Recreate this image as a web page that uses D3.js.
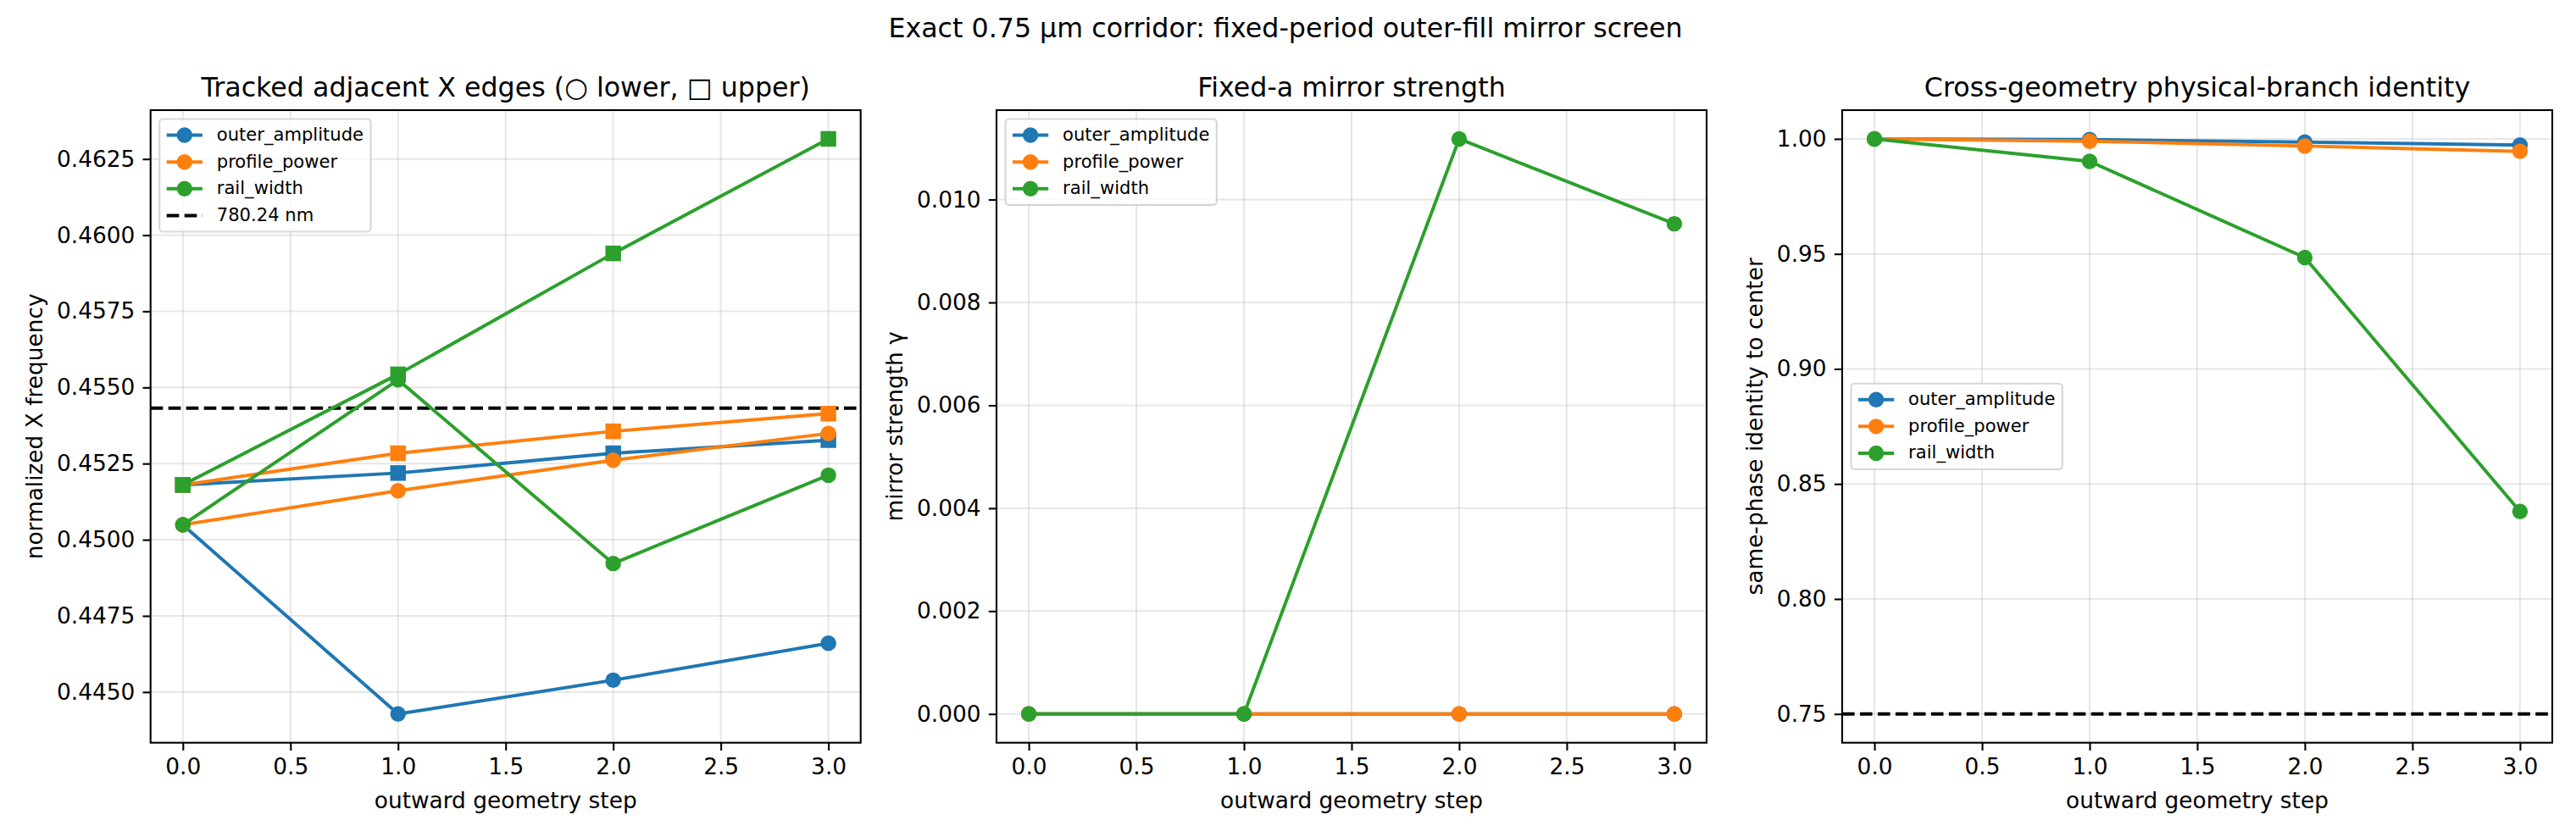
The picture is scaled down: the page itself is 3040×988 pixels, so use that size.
<!DOCTYPE html>
<html><head><meta charset="utf-8">
<script src="https://cdn.jsdelivr.net/npm/d3@7/dist/d3.min.js"></script>
<style>
body{margin:0;background:#fff}
svg text{font-family:"DejaVu Sans",sans-serif;fill:#000}
</style>
</head><body>
<svg id="c" width="3040" height="988" xmlns="http://www.w3.org/2000/svg"></svg>
<script>
// ---------------- DATA ----------------
const steps = [0, 1, 2, 3];
const seriesNames = ["outer_amplitude", "profile_power", "rail_width"];
const seriesColors = ["#1f77b4", "#ff7f0e", "#2ca02c"];

// Panel 1: tracked adjacent X edges (lower = circle, upper = square)
const outerAmplitudeLower = [0.45049, 0.44428, 0.44539, 0.44660];
const outerAmplitudeUpper = [0.45180, 0.45219, 0.45284, 0.45327];
const profilePowerLower   = [0.45049, 0.45161, 0.45261, 0.45349];
const profilePowerUpper   = [0.45180, 0.45284, 0.45356, 0.45414];
const railWidthLower      = [0.45049, 0.45525, 0.44922, 0.45212];
const railWidthUpper      = [0.45180, 0.45543, 0.45940, 0.46316];
const targetFrequency = 0.45432;
const targetLabel = "780.24 nm";

// Panel 2: fixed-a mirror strength
const mirrorOuterAmplitude = [0, 0, 0, 0];
const mirrorProfilePower   = [0, 0, 0, 0];
const mirrorRailWidth      = [0, 0, 0.01118, 0.00953];

// Panel 3: same-phase identity to center
const identityOuterAmplitude = [1.0, 0.9997, 0.9986, 0.9973];
const identityProfilePower   = [1.0, 0.9990, 0.9969, 0.9946];
const identityRailWidth      = [1.0, 0.9902, 0.9484, 0.8380];
const identityThreshold = 0.75;

// Ticks
const xTicks = [0, 0.5, 1, 1.5, 2, 2.5, 3];
const freqTicks = [0.4450, 0.4475, 0.4500, 0.4525, 0.4550, 0.4575, 0.4600, 0.4625];
const mirrorTicks = [0, 0.002, 0.004, 0.006, 0.008, 0.010];
const identityTicks = [0.75, 0.80, 0.85, 0.90, 0.95, 1.00];

// Texts
const suptitle = "Exact 0.75 \u00b5m corridor: fixed-period outer-fill mirror screen";
const titles = ["Tracked adjacent X edges (\u25cb lower, \u25a1 upper)", "Fixed-a mirror strength", "Cross-geometry physical-branch identity"];
const yLabels = ["normalized X frequency", "mirror strength \u03b3", "same-phase identity to center"];
const xLabel = "outward geometry step";

// ---------------- LAYOUT ----------------
const svg = d3.select("#c");
const panelLeft = [177.7, 1176, 2174];
const panelW = 838, panelTop = 130, panelH = 746.7;
const LW = 3.96, MS = 15.8, MEW = 2.64;
const FS_TICK = 26.4, FS_TITLE = 31.7, FS_LEG = 21.1;
const TICK_LEN = 9.2, TICK_W = 2.1, SPINE_W = 2.1;

svg.append("rect").attr("width", 3040).attr("height", 988).attr("fill", "#fff");
svg.append("text").attr("x", 1517).attr("y", 44).attr("text-anchor", "middle")
  .attr("font-size", FS_TITLE).text(suptitle);

function paddedDomain(vals) {
  const lo = d3.min(vals), hi = d3.max(vals), p = (hi - lo) * 0.05;
  return [lo - p, hi + p];
}

function drawPanel(i, cfg) {
  const g = svg.append("g").attr("transform", `translate(${panelLeft[i]},${panelTop})`);
  const x = d3.scaleLinear().domain([-0.15, 3.15]).range([0, panelW]);
  const y = d3.scaleLinear().domain(cfg.yDomain).range([panelH, 0]);
  const clipId = "clip" + i;
  g.append("clipPath").attr("id", clipId).append("rect").attr("width", panelW).attr("height", panelH);

  // grid
  const grid = g.append("g").attr("stroke", "#b0b0b0").attr("stroke-opacity", 0.3).attr("stroke-width", 2.1);
  grid.selectAll("line.gx").data(xTicks).join("line")
    .attr("x1", d => x(d)).attr("x2", d => x(d)).attr("y1", 0).attr("y2", panelH);
  grid.selectAll("line.gy").data(cfg.yTicks).join("line")
    .attr("y1", d => y(d)).attr("y2", d => y(d)).attr("x1", 0).attr("x2", panelW);

  // axes
  const xa = g.append("g").attr("transform", `translate(0,${panelH})`)
    .call(d3.axisBottom(x).tickValues(xTicks).tickFormat(d3.format(".1f")).tickSize(TICK_LEN).tickPadding(TICK_LEN));
  const ya = g.append("g")
    .call(d3.axisLeft(y).tickValues(cfg.yTicks).tickFormat(d3.format(cfg.yFormat)).tickSize(TICK_LEN).tickPadding(TICK_LEN));
  [xa, ya].forEach(a => {
    a.select(".domain").remove();
    a.attr("font-family", null).attr("font-size", FS_TICK);
    a.selectAll(".tick line").attr("stroke", "#000").attr("stroke-width", TICK_W);
    a.selectAll(".tick text").attr("fill", "#000");
  });

  // data
  const plot = g.append("g").attr("clip-path", `url(#${clipId})`);
  (cfg.hlines || []).forEach(v => {
    plot.append("line").attr("x1", 0).attr("x2", panelW).attr("y1", y(v)).attr("y2", y(v))
      .attr("stroke", "#000").attr("stroke-width", LW).attr("stroke-dasharray", "14.65,6.33");
  });
  const line = d3.line().x((d, j) => x(steps[j])).y(d => y(d));
  cfg.series.forEach(s => {
    const sg = plot.append("g");
    sg.append("path").datum(s.values).attr("d", line).attr("fill", "none")
      .attr("stroke", s.color).attr("stroke-width", LW).attr("stroke-linejoin", "round").attr("stroke-linecap", "square");
    if (s.marker === "s") {
      sg.selectAll("rect").data(s.values).join("rect")
        .attr("x", (d, j) => x(steps[j]) - MS / 2).attr("y", d => y(d) - MS / 2)
        .attr("width", MS).attr("height", MS)
        .attr("fill", s.color).attr("stroke", s.color).attr("stroke-width", MEW);
    } else {
      sg.selectAll("circle").data(s.values).join("circle")
        .attr("cx", (d, j) => x(steps[j])).attr("cy", d => y(d)).attr("r", MS / 2)
        .attr("fill", s.color).attr("stroke", s.color).attr("stroke-width", MEW);
    }
  });

  // spines
  g.append("rect").attr("width", panelW).attr("height", panelH).attr("fill", "none")
    .attr("stroke", "#000").attr("stroke-width", SPINE_W);

  // title
  g.append("text").attr("x", panelW / 2).attr("y", -16).attr("text-anchor", "middle")
    .attr("font-size", FS_TITLE).text(cfg.title);

  // x label
  g.append("text").attr("x", panelW / 2).attr("y", panelH + 77.5).attr("text-anchor", "middle")
    .attr("font-size", FS_TICK).text(xLabel);

  // y label: left of tick labels
  let minX = 0;
  ya.selectAll(".tick text").each(function () {
    const b = this.getBBox();
    minX = Math.min(minX, -TICK_LEN * 2 - this.getComputedTextLength());
  });
  const lx = minX - 10.6 - 6.2;
  g.append("text").attr("transform", `translate(${lx},${panelH / 2}) rotate(-90)`)
    .attr("text-anchor", "middle").attr("font-size", FS_TICK).text(cfg.yLabel);

  // legend
  drawLegend(g, cfg.legend, cfg.legendLoc);
}

function drawLegend(g, items, loc) {
  const fs = FS_LEG, pad = 0.4 * fs, hl = 2 * fs, htp = 0.8 * fs, rowH = fs, sp = 0.5 * fs, bap = 0.5 * fs;
  const lg = g.append("g");
  const frame = lg.append("rect");
  const texts = [];
  items.forEach(it => {
    texts.push(lg.append("text").attr("font-size", fs).text(it.label));
  });
  const tw = d3.max(texts, t => t.node().getComputedTextLength());
  const w = pad * 2 + hl + htp + tw;
  const h = pad * 2 + items.length * rowH + (items.length - 1) * sp;
  const x0 = bap;
  const y0 = loc === "center left" ? (panelH - h) / 2 : bap;
  frame.attr("x", x0).attr("y", y0).attr("width", w).attr("height", h).attr("rx", 0.2 * fs)
    .attr("fill", "#fff").attr("fill-opacity", 0.8).attr("stroke", "#cccccc").attr("stroke-opacity", 0.8).attr("stroke-width", 2.1);
  items.forEach((it, k) => {
    const cy = y0 + pad + k * (rowH + sp) + rowH / 2;
    const hx = x0 + pad;
    const ln = lg.append("line").attr("x1", hx).attr("x2", hx + hl).attr("y1", cy).attr("y2", cy)
      .attr("stroke", it.color).attr("stroke-width", LW);
    if (it.dash) ln.attr("stroke-dasharray", "14.65,6.33");
    if (it.marker) {
      lg.append("circle").attr("cx", hx + hl / 2).attr("cy", cy).attr("r", MS / 2)
        .attr("fill", it.color).attr("stroke", it.color).attr("stroke-width", MEW);
    }
    texts[k].attr("x", hx + hl + htp).attr("y", cy + 0.3 * fs);
  });
}

const legendSeries = seriesNames.map((n, k) => ({ label: n, color: seriesColors[k], marker: true }));

// Panel 1
const p1Series = [
  { values: outerAmplitudeLower, color: seriesColors[0], marker: "o" },
  { values: outerAmplitudeUpper, color: seriesColors[0], marker: "s" },
  { values: profilePowerLower, color: seriesColors[1], marker: "o" },
  { values: profilePowerUpper, color: seriesColors[1], marker: "s" },
  { values: railWidthLower, color: seriesColors[2], marker: "o" },
  { values: railWidthUpper, color: seriesColors[2], marker: "s" }
];
drawPanel(0, {
  yDomain: paddedDomain([].concat(...p1Series.map(s => s.values), [targetFrequency])),
  yTicks: freqTicks, yFormat: ".4f", series: p1Series, hlines: [targetFrequency],
  title: titles[0], yLabel: yLabels[0],
  legend: legendSeries.concat([{ label: targetLabel, color: "#000", marker: false, dash: true }]),
  legendLoc: "upper left"
});

// Panel 2
const p2Series = [
  { values: mirrorOuterAmplitude, color: seriesColors[0], marker: "o" },
  { values: mirrorProfilePower, color: seriesColors[1], marker: "o" },
  { values: mirrorRailWidth, color: seriesColors[2], marker: "o" }
];
drawPanel(1, {
  yDomain: paddedDomain([].concat(...p2Series.map(s => s.values))),
  yTicks: mirrorTicks, yFormat: ".3f", series: p2Series,
  title: titles[1], yLabel: yLabels[1], legend: legendSeries, legendLoc: "upper left"
});

// Panel 3
const p3Series = [
  { values: identityOuterAmplitude, color: seriesColors[0], marker: "o" },
  { values: identityProfilePower, color: seriesColors[1], marker: "o" },
  { values: identityRailWidth, color: seriesColors[2], marker: "o" }
];
drawPanel(2, {
  yDomain: paddedDomain([].concat(...p3Series.map(s => s.values), [identityThreshold])),
  yTicks: identityTicks, yFormat: ".2f", series: p3Series, hlines: [identityThreshold],
  title: titles[2], yLabel: yLabels[2], legend: legendSeries, legendLoc: "center left"
});
</script>
</body></html>
